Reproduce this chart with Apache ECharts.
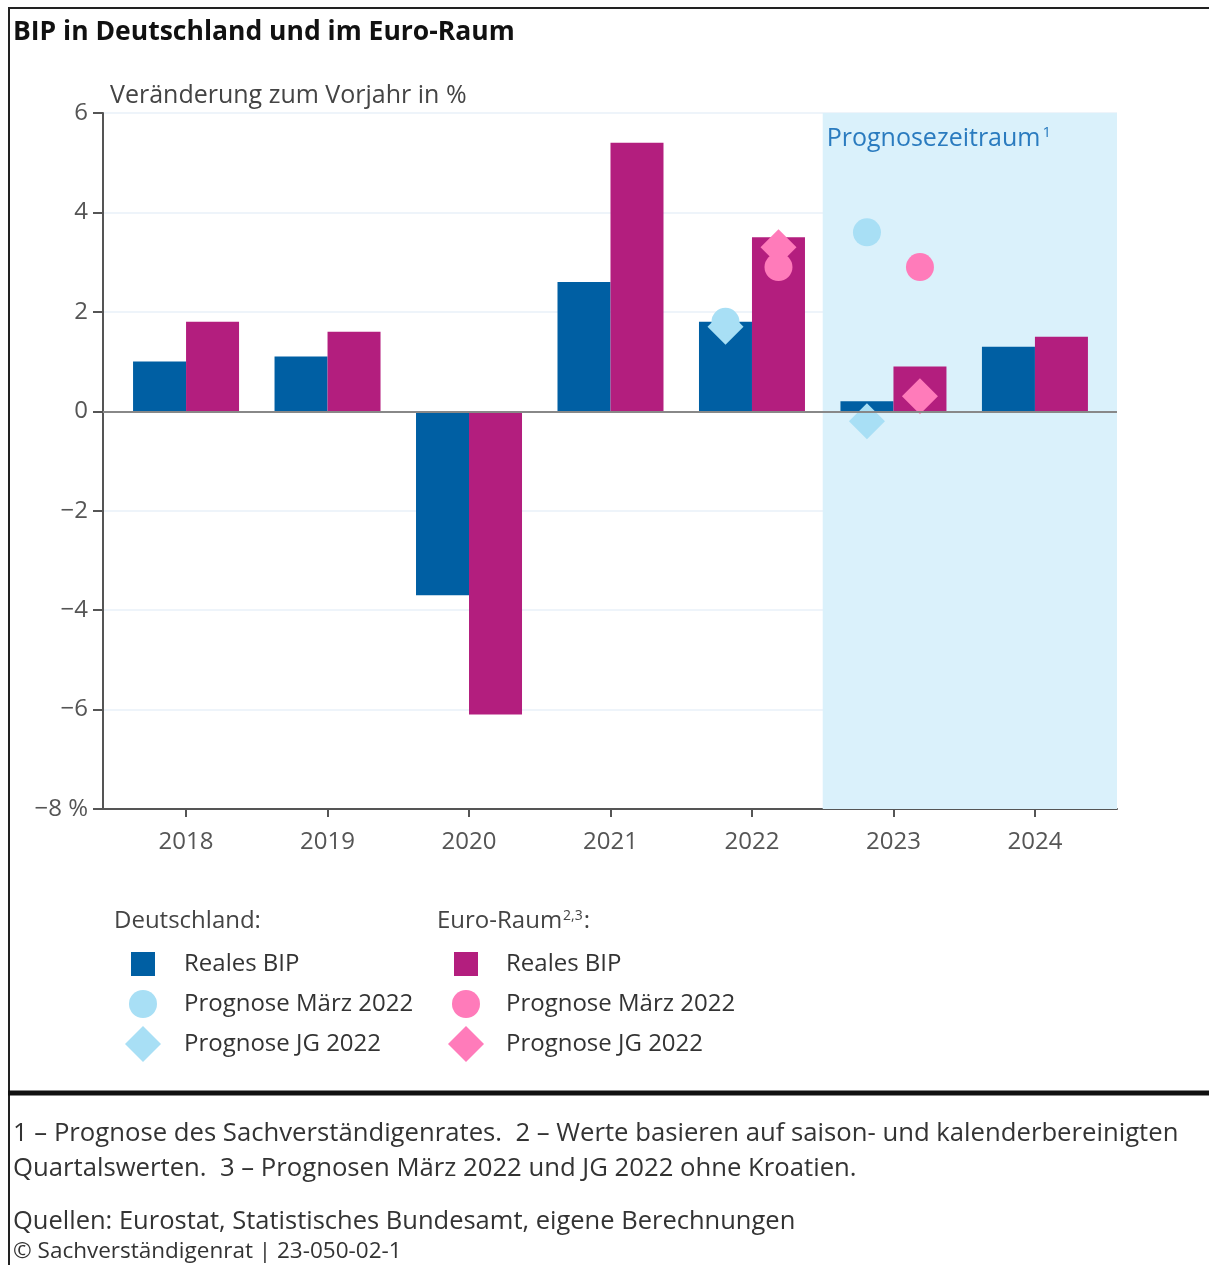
<!DOCTYPE html>
<html>
<head>
<meta charset="utf-8">
<script src="https://cdn.jsdelivr.net/npm/echarts@6/dist/echarts.min.js"></script>
<style>
  html, body { margin: 0; padding: 0; background: #fff; }
  #chart { width: 1209px; height: 1265px; }
</style>
</head>
<body>
<div id="chart"></div>
<script>
// Daten (Veränderung zum Vorjahr in %)
var years = [2018, 2019, 2020, 2021, 2022, 2023, 2024];
var deBip = [1.0, 1.1, -3.7, 2.6, 1.8, 0.2, 1.3];
var euBip = [1.8, 1.6, -6.1, 5.4, 3.5, 0.9, 1.5];
// Prognosen: [Jahr, Wert]
var deMaerz = [[2022, 1.8], [2023, 3.6]];
var deJg = [[2022, 1.7], [2023, -0.2]];
var euMaerz = [[2022, 2.9], [2023, 2.9]];
var euJg = [[2022, 3.3], [2023, 0.3]];
var yTicks = [-8, -6, -4, -2, 0, 2, 4, 6];
var prognoseStart = 2022.5;

var FONT = 'Open Sans';
var C_DE = '#005fa3', C_EU = '#b31e7e', C_DE_L = '#a8dff5', C_EU_L = '#ff7bba';

var myChart = echarts.init(document.getElementById('chart'));

function pairs(vals) {
    return years.map(function (y, i) { return [y, vals[i]]; });
}

// ein Legendeneintrag pro Legende, damit jedes Symbol seine eigene Größe hat
function legendItem(name, icon, size, cx, cy, textX) {
    return {
        data: [{ name: name, icon: icon }],
        padding: 0,
        left: cx - size / 2,
        top: cy - size / 2 + 2,
        itemWidth: size,
        itemHeight: size,
        selectedMode: false,
        formatter: function (n) { return n.slice(3); },
        textStyle: {
            fontFamily: FONT, fontSize: 24, color: '#333',
            padding: [0, 0, 0, textX - (cx + size / 2) - 5]
        }
    };
}

var option = {
    backgroundColor: '#fff',
    animation: false,
    title: {
        text: 'BIP in Deutschland und im Euro-Raum',
        left: 8, top: 14,
        textStyle: { fontFamily: FONT, fontWeight: 'bold', fontSize: 26.5, color: '#111' }
    },
    grid: { left: 103, top: 113, width: 1014, height: 696 },
    xAxis: {
        type: 'value',
        min: 2017.413,
        max: 2024.58,
        splitLine: { show: false },
        axisLine: { show: true, onZero: false, lineStyle: { color: '#555', width: 2 } },
        axisTick: { show: true, customValues: years, length: 8, lineStyle: { color: '#555', width: 2 } },
        axisLabel: {
            customValues: years, margin: 21,
            fontFamily: FONT, fontSize: 24, color: '#555',
            formatter: function (v) { return String(v); }
        }
    },
    yAxis: {
        type: 'value',
        min: -8, max: 6, interval: 2,
        name: 'Veränderung zum Vorjahr in %',
        nameLocation: 'end',
        nameGap: 5,
        nameTextStyle: { fontFamily: FONT, fontSize: 25, color: '#444', align: 'left', padding: [0, 0, 0, 7] },
        axisLine: { show: true, lineStyle: { color: '#555', width: 2 } },
        axisTick: { show: true, length: 10, lineStyle: { color: '#555', width: 2 } },
        axisLabel: {
            fontFamily: FONT, fontSize: 24, color: '#555', margin: 15,
            formatter: function (v) {
                var s = v < 0 ? '\u2212' + Math.abs(v) : String(v);
                return v === yTicks[0] ? s + ' %' : s;
            }
        },
        splitLine: { show: true, lineStyle: { color: '#eef4fa', width: 2 } }
    },
    legend: [
        legendItem('DE Reales BIP', 'rect', 24, 143, 962, 184),
        legendItem('DE Prognose März 2022', 'circle', 28, 143, 1002, 184),
        legendItem('DE Prognose JG 2022', 'diamond', 36, 143, 1042, 184),
        legendItem('EU Reales BIP', 'rect', 24, 466, 962, 506),
        legendItem('EU Prognose März 2022', 'circle', 28, 466, 1002, 506),
        legendItem('EU Prognose JG 2022', 'diamond', 36, 466, 1042, 506)
    ],
    graphic: [
        { type: 'line', shape: { x1: 8, y1: 8, x2: 1209, y2: 8 }, style: { stroke: '#222', lineWidth: 2 } },
        { type: 'line', shape: { x1: 9, y1: 8, x2: 9, y2: 1265 }, style: { stroke: '#222', lineWidth: 2 } },
        { type: 'line', shape: { x1: 8, y1: 1093, x2: 1209, y2: 1093 }, style: { stroke: '#111', lineWidth: 5 } },
        { type: 'text', left: 114, top: 909, style: { text: 'Deutschland:', font: '24px "' + FONT + '"', fill: '#444' } },
        {
            type: 'text', left: 437, top: 909,
            style: {
                text: 'Euro-Raum{s|2,3}:', font: '24px "' + FONT + '"', fill: '#444',
                rich: { s: { fontFamily: FONT, fontSize: 14, fill: '#444', verticalAlign: 'top', padding: [0, 1, 11, 1] } }
            }
        },
        {
            type: 'text', left: 13, top: 1116,
            style: {
                text: '1 \u2013 Prognose des Sachverständigenrates.  2 \u2013 Werte basieren auf saison- und kalenderbereinigten\nQuartalswerten.  3 \u2013 Prognosen März 2022 und JG 2022 ohne Kroatien.',
                font: '25.7px "' + FONT + '"', fill: '#333', lineHeight: 35
            }
        },
        { type: 'text', left: 13, top: 1209, style: { text: 'Quellen: Eurostat, Statistisches Bundesamt, eigene Berechnungen', font: '25.5px "' + FONT + '"', fill: '#333' } },
        { type: 'text', left: 13, top: 1240, style: { text: '\u00a9 Sachverständigenrat | 23-050-02-1', font: '22.5px "' + FONT + '"', fill: '#333' } }
    ],
    series: [
        {
            // Prognosezeitraum, hinter den Gitterlinien
            name: 'Prognosezeitraum',
            type: 'scatter',
            data: [],
            z: -1,
            markArea: {
                silent: true,
                itemStyle: { color: '#daf1fb' },
                label: {
                    show: true, position: 'insideTopLeft', offset: [-1, 7],
                    formatter: 'Prognosezeitraum{s|1}',
                    fontFamily: FONT, fontSize: 25, color: '#2a7bbf',
                    rich: { s: { fontFamily: FONT, fontSize: 15, color: '#2a7bbf', verticalAlign: 'top', padding: [0, 0, 13, 2] } }
                },
                data: [[{ xAxis: prognoseStart }, { xAxis: 'max' }]]
            }
        },
        {
            name: 'DE Reales BIP',
            type: 'bar',
            barWidth: 53,
            barGap: '0%',
            itemStyle: { color: C_DE },
            data: pairs(deBip),
            markLine: {
                silent: true, symbol: 'none', label: { show: false },
                lineStyle: { color: '#888', width: 2, type: 'solid' },
                data: [{ yAxis: 0 }]
            }
        },
        {
            name: 'EU Reales BIP',
            type: 'bar',
            barWidth: 53,
            barGap: '0%',
            itemStyle: { color: C_EU },
            data: pairs(euBip)
        },
        {
            name: 'DE Prognose JG 2022', type: 'scatter', symbol: 'diamond', symbolSize: 36,
            symbolOffset: [-26.5, 0], itemStyle: { color: C_DE_L, opacity: 1 }, z: 4, data: deJg
        },
        {
            name: 'DE Prognose März 2022', type: 'scatter', symbol: 'circle', symbolSize: 28,
            symbolOffset: [-26.5, 0], itemStyle: { color: C_DE_L, opacity: 1 }, z: 4, data: deMaerz
        },
        {
            name: 'EU Prognose März 2022', type: 'scatter', symbol: 'circle', symbolSize: 28,
            symbolOffset: [26.5, 0], itemStyle: { color: C_EU_L, opacity: 1 }, z: 4, data: euMaerz
        },
        {
            name: 'EU Prognose JG 2022', type: 'scatter', symbol: 'diamond', symbolSize: 36,
            symbolOffset: [26.5, 0], itemStyle: { color: C_EU_L, opacity: 1 }, z: 4, data: euJg
        }
    ]
};

myChart.setOption(option);
</script>
</body>
</html>
